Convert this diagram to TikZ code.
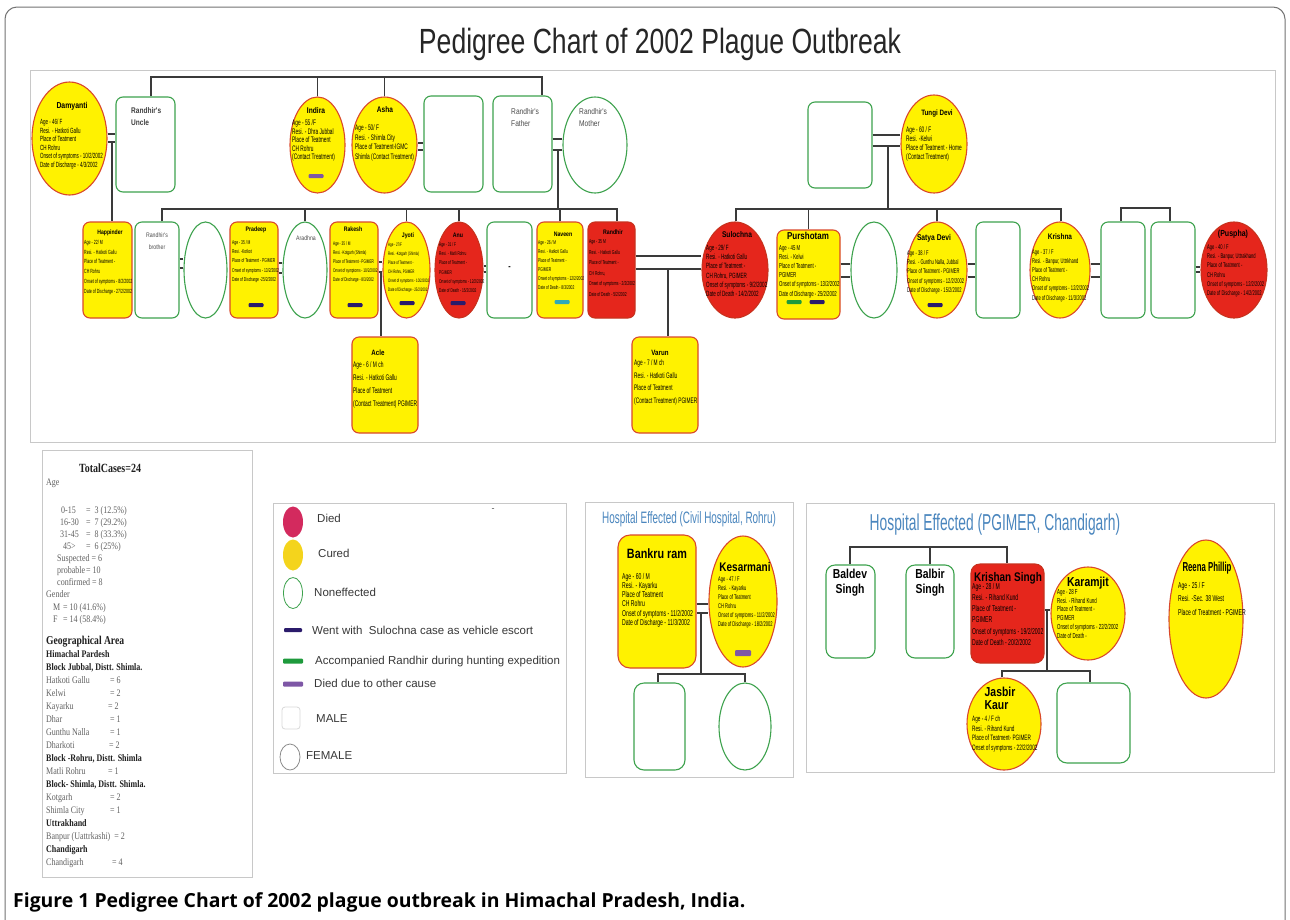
\documentclass[tikz,border=0pt]{standalone}
\usepackage{fontspec}
\setmainfont{Liberation Sans}
\newfontfamily\nar[FakeStretch=0.6]{Liberation Sans}
\newfontfamily\namef[FakeStretch=0.8]{Liberation Sans}
\newfontfamily\tnar[FakeStretch=0.76]{Liberation Sans}
\newfontfamily\statf[FakeStretch=0.8]{Liberation Serif}
\newfontfamily\capf{Open Sans}
\usetikzlibrary{shapes.geometric,calc}
\definecolor{yel}{HTML}{FFF200}
\definecolor{yelb}{HTML}{D9482B}
\definecolor{redf}{HTML}{E5261C}
\definecolor{redb}{HTML}{C8321E}
\definecolor{grn}{HTML}{3DA24D}
\definecolor{ln}{HTML}{3A3A3A}
\definecolor{navy}{HTML}{2B1B6B}
\definecolor{barg}{HTML}{1E9A3C}
\definecolor{purp}{HTML}{7E57A6}
\definecolor{tealc}{HTML}{2FA9B8}
\definecolor{ttl}{HTML}{4A86BE}
\definecolor{pan}{HTML}{C8C8C8}
\definecolor{lgdied}{HTML}{D32A5E}
\definecolor{lgcured}{HTML}{F4D41C}
\newcommand\fs[2]{\fontsize{#1}{#2}\selectfont}
\newcommand\dtl[3]{{\nar\fs{#1}{#2}\begin{tabular}[t]{@{}l@{}}#3\end{tabular}}}
\newcommand\dbl[4]{\draw[conn] (#1.east |- 0,#3) -- (#2.west |- 0,#3); \draw[conn] (#1.east |- 0,#4) -- (#2.west |- 0,#4);}
\begin{document}
\begin{tikzpicture}[x=1pt,y=-1pt,
  pbox/.style={rectangle, rounded corners=7pt, line width=1.1pt, inner sep=0pt},
  pell/.style={ellipse, line width=1.1pt, inner sep=0pt},
  cured/.style={fill=yel, draw=yelb},
  died/.style={fill=redf, draw=redb},
  unaff/.style={fill=white, draw=grn},
  wh/.style 2 args={minimum width=#1pt, minimum height=#2pt},
  conn/.style={draw=ln, line width=1.2pt},
  nm/.style={anchor=base, inner sep=0pt},
  dt/.style={anchor=base west, inner sep=0pt},
  tag/.style={rectangle, rounded corners=1pt, inner sep=0pt, minimum width=15pt, minimum height=4pt},
  panel/.style={draw=pan, line width=0.9pt},
  lg/.style={anchor=base west, inner sep=0pt, font={\fs{11.5}{13}}, text=black!78},
  st/.style={anchor=base west, inner sep=0pt, font={\statf\fs{10}{12}}, text=black!62},
  stb/.style={anchor=base west, inner sep=0pt, font={\statf\bfseries\fs{10}{12}}, text=black!88}
]
\useasboundingbox (0,0) rectangle (1290,919);
\fill[white] (0,0) rectangle (1290,919);
% outer frame
\draw[draw=black!55, line width=1pt, rounded corners=12pt] (5,7) rectangle (1285,935);
% title
\node[anchor=base, inner sep=0pt, font={\tnar\fs{35}{40}}, text=black!85] (title) at (660,53) {Pedigree Chart of 2002 Plague Outbreak};
% panels
\draw[panel] (30,70) rectangle (1275,442);
\draw[panel] (42,450) rectangle (252,877);
\draw[panel] (273,503) rectangle (566,773);
\draw[panel] (585,502) rectangle (793,777);
\draw[panel] (806,503) rectangle (1274,772);

% ---------- generation 1 ----------
\node[pell,cured,wh={75}{113}] (dam) at (69.5,138.5) {};
\node[pbox,unaff,wh={59}{95}] (unc) at (145.5,144.5) {};
\node[pell,cured,wh={55}{96}] (ind) at (317.5,145) {};
\node[pell,cured,wh={65}{96}] (asha) at (384.5,145) {};
\node[pbox,unaff,wh={59}{96}] (ashh) at (453.5,144) {};
\node[pbox,unaff,wh={59}{96}] (fath) at (522.5,144) {};
\node[pell,unaff,wh={64}{96}] (moth) at (595,145) {};
\node[pbox,unaff,wh={64}{86}] (tungh) at (840,145) {};
\node[pell,cured,wh={66}{98}] (tungi) at (934,144) {};

% ---------- generation 2 ----------
\node[pbox,cured,wh={49}{96}] (hap) at (107.5,270) {};
\node[pbox,unaff,wh={44}{96}] (bro) at (157,270) {};
\node[pell,unaff,wh={43}{96}] (brow) at (205.5,270) {};
\node[pbox,cured,wh={48}{96}] (prad) at (254,270) {};
\node[pell,unaff,wh={44}{96}] (arad) at (305,270) {};
\node[pbox,cured,wh={48}{96}] (rak) at (354,270) {};
\node[pell,cured,wh={47}{96}] (jyo) at (406.5,270) {};
\node[pell,died,wh={48}{96}] (anu) at (459,270) {};
\node[pbox,unaff,wh={45}{96}] (anuh) at (509.5,270) {};
\node[pbox,cured,wh={46}{96}] (nav) at (560,270) {};
\node[pbox,died,wh={47}{96}] (ran) at (611.5,270) {};
\node[pell,died,wh={66}{96}] (sul) at (735,270) {};
\node[pbox,cured,wh={63}{89}] (pur) at (808.5,274.5) {};
\node[pell,unaff,wh={46}{96}] (purw) at (874,270) {};
\node[pell,cured,wh={60}{96}] (sat) at (937,270) {};
\node[pbox,unaff,wh={44}{96}] (sath) at (998,270) {};
\node[pell,cured,wh={60}{96}] (kri) at (1060,270) {};
\node[pbox,unaff,wh={44}{96}] (krih) at (1123,270) {};
\node[pbox,unaff,wh={44}{96}] (oth) at (1173,270) {};
\node[pell,died,wh={66}{96}] (pus) at (1234,270) {};

% ---------- generation 3 ----------
\node[pbox,cured,wh={66}{96}] (acle) at (385,385) {};
\node[pbox,cured,wh={66}{96}] (var) at (665,385) {};

% ---------- connectors (main chart) ----------
\coordinate (tbl) at (151,77); \coordinate (tbr) at (542,77);
\draw[conn] (tbl |- unc.north) -- (tbl) -- (tbr) -- (tbr |- fath.north);
\draw[conn] (ind.north) -- (ind.north |- tbl);
\draw[conn] (asha.north) -- (asha.north |- tbl);
\dbl{dam}{unc}{134}{142}
\coordinate (du) at (112,142);
\draw[conn] (du) -- (du |- hap.north);
\dbl{asha}{ashh}{143}{150}
\dbl{fath}{moth}{139}{150}
\coordinate (fm) at (558,150);
\coordinate (g2l) at (162,209); \coordinate (g2r) at (617,209);
\draw[conn] (fm) -- (fm |- g2l);
\draw[conn] (g2l |- bro.north) -- (g2l) -- (g2r) -- (g2r |- ran.north);
\draw[conn] (arad.north) -- (arad.north |- g2l);
\draw[conn] (jyo.north) -- (jyo.north |- g2l);
\draw[conn] (anu.north) -- (anu.north |- g2l);
\draw[conn] (nav.north) -- (nav.north |- g2l);
\dbl{bro}{brow}{259}{268}
\dbl{prad}{arad}{263}{273}
\dbl{rak}{jyo}{262}{272}
\coordinate (rj) at (381,272);
\draw[conn] (rj) -- (rj |- acle.north);
\dbl{anu}{anuh}{266}{272}
\dbl{ran}{sul}{256}{269}
\coordinate (rs) at (668,269);
\draw[conn] (rs) -- (rs |- var.north);
\dbl{tungh}{tungi}{135}{146}
\coordinate (tu) at (888,146);
\coordinate (g3l) at (736,209); \coordinate (g3r) at (1061,209);
\draw[conn] (tu) -- (tu |- g3l);
\draw[conn] (g3l |- sul.north) -- (g3l) -- (g3r) -- (g3r |- kri.north);
\draw[conn] (pur.north) -- (pur.north |- g3l);
\draw[conn] (sat.north) -- (sat.north |- g3l);
\dbl{pur}{purw}{264}{277}
\dbl{sat}{sath}{264}{277}
\dbl{kri}{krih}{264}{277}
\dbl{oth}{pus}{267}{272}
\coordinate (kb1) at (1121,208); \coordinate (kb2) at (1170,208);
\draw[conn] (kb1 |- krih.north) -- (kb1) -- (kb2) -- (kb2 |- oth.north);

% ---------- texts, generation 1 ----------
\node[nm,font={\namef\bfseries\fs{8.6}{10}}] (dam-n) at (72,108) {Damyanti};
\node[dt] (dam-d) at (40,124.5) {\dtl{7.5}{8.5}{Age - 46/ F\\Resi. - Hatkoti Gallu\\Place of Teatment\\CH Rohru\\Onset of symptoms - 10/2/2002\\Date of Discharge - 4/3/2002}};
\node[dt,font={\namef\bfseries\fs{8.2}{12}},text=black!75,align=left] (unc-n) at (131,125) {Randhir's\\Uncle};
\node[nm,font={\namef\bfseries\fs{8.3}{10}}] (ind-n) at (316,113) {Indira};
\node[dt] (ind-d) at (292,125.5) {\dtl{8}{8.5}{Age - 55 /F\\Resi. - Dhra Jubbal\\Place of Teatment\\CH Rohru\\(Contact Treatment)}};
\node[tag,fill=purp] (ind-b) at (316,176) {};
\node[nm,font={\namef\bfseries\fs{8.2}{10}}] (asha-n) at (385,112) {Asha};
\node[dt] (asha-d) at (355,130.5) {\dtl{8}{9.7}{Age - 50/ F\\Resi. - Shimla City\\Place of Teatment-IGMC\\Shimla (Contact Treatment)}};
\node[dt,font={\namef\fs{8.3}{12}},text=black!70,align=left] (fath-n) at (511,126) {Randhir's\\Father};
\node[dt,font={\namef\fs{8.3}{12}},text=black!70,align=left] (moth-n) at (579,126) {Randhir's\\Mother};
\node[nm,font={\namef\bfseries\fs{7.8}{10}}] (tungi-n) at (937,115) {Tungi Devi};
\node[dt] (tungi-d) at (906,132.5) {\dtl{8}{9.1}{Age - 60 / F\\Resi. -Kelwi\\Place of Teatment - Home\\(Contact Treatment)}};

% ---------- texts, generation 2 ----------
\node[nm,font={\namef\bfseries\fs{6.4}{8}}] (hap-n) at (110,234) {Happinder};
\node[dt] (hap-d) at (84,244.5) {\dtl{6}{9.7}{Age - 22/ M\\Resi. - Hatkoti Gallu\\Place of Teatment -\\CH Rohru\\Onset of symptoms - 8/2/2002\\Date of Discharge - 27/2/2002}};
\node[nm,font={\namef\fs{6.5}{12}},text=black!70,align=center] (bro-n) at (157,249) {Randhir's\\brother};
\node[nm,font={\namef\bfseries\fs{6.5}{8}}] (prad-n) at (256,231) {Pradeep};
\node[dt] (prad-d) at (232,244.5) {\dtl{5.6}{9.2}{Age - 35 / M\\Resi. -Kotkot\\Place of Teatment - PGIMER\\Onset of symptoms - 13/2/2002\\Date of Discharge -25/2/2002}};
\node[tag,fill=navy] (prad-b) at (256,305) {};
\node[nm,font={\namef\fs{6.5}{8}},text=black!70] (arad-n) at (306,240) {Aradhna};
\node[nm,font={\namef\bfseries\fs{6.5}{8}}] (rak-n) at (353,231) {Rakesh};
\node[dt] (rak-d) at (333,245.5) {\dtl{5.3}{9}{Age - 35 / M\\Resi. -Kotgarh (Shimla)\\Place of Teatment - PGIMER\\Onset of symptoms - 10/2/2002\\Date of Discharge - 8/3/2002}};
\node[tag,fill=navy] (rak-b) at (355,305) {};
\node[nm,font={\namef\bfseries\fs{6.5}{8}}] (jyo-n) at (408,237) {Jyoti};
\node[dt] (jyo-d) at (388,246.5) {\dtl{4.9}{9}{Age - 27/F\\Resi. -Kotgarh (Shimla)\\Place of Teatment -\\CH Rohru, PGIMER\\Onset of symptoms - 10/2/2002\\Date of Discharge - 25/2/2002}};
\node[tag,fill=navy] (jyo-b) at (407,303) {};
\node[nm,font={\namef\bfseries\fs{6.5}{8}}] (anu-n) at (458,237) {Anu};
\node[dt] (anu-d) at (439,246.5) {\dtl{5.4}{9.2}{Age - 31 / F\\Resi. - Matli Rohru\\Place of Teatment -\\PGIMER\\Onset of symptoms - 12/2/2002\\Date of Death - 15/2/2002}};
\node[tag,fill=navy] (anu-b) at (458,303) {};
\node[nm,font={\namef\bfseries\fs{9}{10}}] (anuh-n) at (509.5,269) {-};
\node[nm,font={\namef\bfseries\fs{6.5}{8}}] (nav-n) at (563,236) {Naveen};
\node[dt] (nav-d) at (538,244.5) {\dtl{5.5}{9}{Age - 26 / M\\Resi. - Hatkoti Gallu\\Place of Teatment -\\PGIMER\\Onset of symptoms - 12/2/2002\\Date of Death - 8/3/2002}};
\node[tag,fill=tealc] (nav-b) at (562,302) {};
\node[nm,font={\namef\bfseries\fs{6.5}{8}}] (ran-n) at (613,234) {Randhir};
\node[dt] (ran-d) at (589,243.5) {\dtl{5.7}{10.5}{Age - 35 M\\Resi. - Hatkoti Gallu\\Place of Teatment -\\CH Rohru,\\Onset of symptoms - 2/2/2002\\Date of Death - 5/2/2002}};
\node[nm,font={\namef\bfseries\fs{8.3}{10}}] (sul-n) at (737,237.5) {Sulochna};
\node[dt] (sul-d) at (706,250.5) {\dtl{7.6}{9.2}{Age - 29/ F\\Resi. - Hatkoti Gallu\\Place of Teatment -\\CH Rohru, PGIMER\\Onset of symptoms - 9/2/2002\\Date of Death - 14/2/2002}};
\node[nm,font={\namef\bfseries\fs{10}{12}}] (pur-n) at (808,239) {Purshotam};
\node[dt] (pur-d) at (779,250.5) {\dtl{7.2}{9.1}{Age - 45 M\\Resi. - Kelwi\\Place of Teatment -\\PGIMER\\Onset of symptoms - 13/2/2002\\Date of Discharge - 25/2/2002}};
\node[tag,fill=barg] (pur-b1) at (794,302) {};
\node[tag,fill=navy] (pur-b2) at (817,302) {};
\node[nm,font={\namef\bfseries\fs{8.4}{10}}] (sat-n) at (934,240) {Satya Devi};
\node[dt] (sat-d) at (907,255.5) {\dtl{6.8}{9.2}{Age - 38 / F\\Resi. - Gunthu Nalla, Jubbal\\Place of Teatment - PGIMER\\Onset of symptoms - 12/2/2002\\Date of Discharge - 15/2/2002}};
\node[tag,fill=navy] (sat-b) at (935,305) {};
\node[nm,font={\namef\bfseries\fs{8.1}{10}}] (kri-n) at (1060,239) {Krishna};
\node[dt] (kri-d) at (1032,254.5) {\dtl{6.8}{9.1}{Age - 37 / F\\Resi. - Banpur, Uttrkhand\\Place of Teatment -\\CH Rohru\\Onset of symptoms - 12/2/2002\\Date of Discharge - 11/3/2002}};
\node[nm,font={\namef\bfseries\fs{8.8}{10}}] (pus-n) at (1233,236.5) {(Puspha)};
\node[dt] (pus-d) at (1207,249.5) {\dtl{6.8}{9.2}{Age - 40 / F\\Resi. - Banpur, Uttrakhand\\Place of Teatment -\\CH Rohru\\Onset of symptoms - 12/2/2002\\Date of Discharge - 14/2/2002}};

% ---------- texts, generation 3 ----------
\node[nm,font={\namef\bfseries\fs{7.7}{10}}] (acle-n) at (378,355) {Acle};
\node[dt] (acle-d) at (353,367.5) {\dtl{8.1}{13}{Age - 6 / M ch\\Resi. - Hatkoti Gallu\\Place of Teatment\\(Contact Treatment) PGIMER}};
\node[nm,font={\namef\bfseries\fs{7.7}{10}}] (var-n) at (660,355) {Varun};
\node[dt] (var-d) at (634,365.5) {\dtl{8}{12.7}{Age - 7 / M ch\\Resi. - Hatkoti Gallu\\Place of Teatment\\(Contact Treatment) PGIMER}};

% ---------- statistics ----------
\node[anchor=base, inner sep=0pt, font={\statf\bfseries\fs{12.5}{14}}, text=black!88] (st0) at (110,472) {TotalCases=24};
\node[st] (st1) at (46,485.5) {Age};
\node[st] (st2) at (61,513) {\makebox[25pt][l]{0-15}= \ 3 (12.5\%)};
\node[st] (st3) at (60,525) {\makebox[26pt][l]{16-30}= \ 7 (29.2\%)};
\node[st] (st4) at (60,537) {\makebox[26pt][l]{31-45}= \ 8 (33.3\%)};
\node[st] (st5) at (63,549) {\makebox[23pt][l]{45>}= \ 6 (25\%)};
\node[st] (st6) at (57,561) {Suspected = 6};
\node[st] (st7) at (57,573) {\makebox[29pt][l]{probable}= 10};
\node[st] (st8) at (57,585) {confirmed = 8};
\node[st] (st9) at (46,597) {Gender};
\node[st] (st10) at (53,610) {\makebox[10pt][l]{M}= 10 (41.6\%)};
\node[st] (st11) at (53,622) {\makebox[10pt][l]{F}= 14 (58.4\%)};
\node[anchor=base west, inner sep=0pt, font={\statf\bfseries\fs{12}{14}}, text=black!88] (st12) at (46,644) {Geographical Area};
\node[stb] (st13) at (46,657) {Himachal Pardesh};
\node[stb] (st14) at (46,670) {Block Jubbal, Distt. Shimla.};
\node[st] (st15) at (46,683) {\makebox[64pt][l]{Hatkoti Gallu}= 6};
\node[st] (st16) at (46,696) {\makebox[64pt][l]{Kelwi}= 2};
\node[st] (st17) at (46,709) {\makebox[62pt][l]{Kayarku}= 2};
\node[st] (st18) at (46,722) {\makebox[64pt][l]{Dhar}= 1};
\node[st] (st19) at (46,735) {\makebox[64pt][l]{Gunthu Nalla}= 1};
\node[st] (st20) at (46,748) {\makebox[63pt][l]{Dharkoti}= 2};
\node[stb] (st21) at (46,761) {Block -Rohru, Distt. Shimla};
\node[st] (st22) at (46,774) {\makebox[62pt][l]{Matli Rohru}= 1};
\node[stb] (st23) at (46,787) {Block- Shimla, Distt. Shimla.};
\node[st] (st24) at (46,800) {\makebox[64pt][l]{Kotgarh}= 2};
\node[st] (st25) at (46,813) {\makebox[64pt][l]{Shimla City}= 1};
\node[stb] (st26) at (46,826) {Uttrakhand};
\node[st] (st27) at (46,839) {Banpur (Uattrkashi) \ = 2};
\node[stb] (st28) at (46,852) {Chandigarh};
\node[st] (st29) at (46,865) {\makebox[66pt][l]{Chandigarh}= 4};

% ---------- legend ----------
\node[ellipse, fill=lgdied, inner sep=0pt, wh={20}{31}] (lg1s) at (293,522) {};
\node[ellipse, fill=lgcured, inner sep=0pt, wh={20}{31}] (lg2s) at (293,555) {};
\node[ellipse, draw=grn, line width=0.8pt, fill=white, inner sep=0pt, wh={19}{31}] (lg3s) at (293,593) {};
\node[tag, fill=navy, minimum width=18pt] (lg4s) at (293,630) {};
\node[tag, fill=barg, minimum width=20pt, minimum height=5pt] (lg5s) at (293,661) {};
\node[tag, fill=purp, minimum width=20pt, minimum height=5pt] (lg6s) at (293,684) {};
\node[rectangle, rounded corners=3pt, draw=black!15, line width=0.8pt, inner sep=0pt, wh={18}{22}] (lg7s) at (291,718) {};
\node[ellipse, draw=black!45, line width=0.8pt, inner sep=0pt, wh={20}{26}] (lg8s) at (290,757) {};
\node[lg] (lg1) at (317,522) {Died};
\node[lg] (lg2) at (318,557) {Cured};
\node[lg] (lg3) at (314,596) {Noneffected};
\node[lg] (lg4) at (312,634) {Went with \ Sulochna case as vehicle escort};
\node[lg] (lg5) at (315,664) {Accompanied Randhir during hunting expedition};
\node[lg] (lg6) at (314,687) {Died due to other cause};
\node[lg] (lg7) at (316,722) {MALE};
\node[lg] (lg8) at (306,759) {FEMALE};
\node[anchor=base, inner sep=0pt, font={\fs{9}{10}}, text=black!70] (lgdash) at (493,511) {-};

% ---------- hospital Rohru ----------
\node[anchor=base, inner sep=0pt, font={\nar\fs{16.5}{18}}, text=ttl] (rt) at (689,523) {Hospital Effected (Civil Hospital, Rohru)};
\node[pbox,cured,wh={78}{133},rounded corners=12pt] (bank) at (657,601.5) {};
\node[pell,cured,wh={68}{131}] (kes) at (743,601.5) {};
\node[pbox,unaff,wh={51}{87},rounded corners=10pt] (rc1) at (659.5,726.5) {};
\node[pell,unaff,wh={52}{87}] (rc2) at (745,726.5) {};
\dbl{bank}{kes}{604}{613}
\coordinate (bk) at (701,613);
\coordinate (rbl) at (658,674); \coordinate (rbr) at (745,674);
\draw[conn] (bk) -- (bk |- rbl);
\draw[conn] (rbl |- rc1.north) -- (rbl) -- (rbr) -- (rbr |- rc2.north);
\node[nm,font={\namef\bfseries\fs{13.5}{15}}] (bank-n) at (657,558) {Bankru ram};
\node[dt] (bank-d) at (622,579) {\dtl{8.5}{9.3}{Age - 60 / M\\Resi. - Kayarku\\Place of Teatment\\CH Rohru\\Onset of symptoms - 11/2/2002\\Date of Discharge - 11/3/2002}};
\node[nm,font={\namef\bfseries\fs{12.5}{15}}] (kes-n) at (745,571) {Kesarmani};
\node[dt] (kes-d) at (718,581.5) {\dtl{6.8}{8.9}{Age - 47 / F\\Resi. - Kayarku\\Place of Teatment\\CH Rohru\\Onset of symptoms - 11/2/2002\\Date of Discharge - 18/2/2002}};
\node[tag,fill=purp,minimum width=16pt,minimum height=6pt] (kes-b) at (743,653) {};

% ---------- hospital PGIMER ----------
\node[anchor=base, inner sep=0pt, font={\nar\fs{23}{26}}, text=ttl] (pt) at (995,530) {Hospital Effected (PGIMER, Chandigarh)};
\node[pbox,unaff,wh={49}{93},rounded corners=9pt] (bal) at (850.5,611.5) {};
\node[pbox,unaff,wh={48}{93},rounded corners=9pt] (bab) at (930,611.5) {};
\node[pbox,died,wh={73}{99},rounded corners=9pt] (ks) at (1007.5,613.5) {};
\node[pell,cured,wh={74}{93}] (kar) at (1088,613.5) {};
\node[pell,cured,wh={74}{92}] (jas) at (1004,724) {};
\node[pbox,unaff,wh={73}{80},rounded corners=10pt] (eb) at (1093.5,723) {};
\node[pell,cured,wh={74}{158}] (reena) at (1206,619) {};
\coordinate (pbl) at (850,547); \coordinate (pbr) at (1007,547);
\draw[conn] (pbl |- bal.north) -- (pbl) -- (pbr) -- (pbr |- ks.north);
\draw[conn] (bab.north) -- (bab.north |- pbl);
\draw[conn] (ks.east |- 0,610) -- (kar.west |- 0,610);
\coordinate (kk) at (1047,610);
\coordinate (pcl) at (1002,671); \coordinate (pcr) at (1090,671);
\draw[conn] (kk) -- (kk |- pcl);
\draw[conn] (pcl |- jas.north) -- (pcl) -- (pcr) -- (pcr |- eb.north);
\node[nm,font={\namef\bfseries\fs{13}{15}},align=center] (bal-n) at (850,593) {Baldev\\Singh};
\node[nm,font={\namef\bfseries\fs{13}{15}},align=center] (bab-n) at (930,593) {Balbir\\Singh};
\node[nm,font={\namef\bfseries\fs{12.5}{15}}] (ks-n) at (1008,581) {Krishan Singh};
\node[dt] (ks-d) at (972,589) {\dtl{8.5}{11.3}{Age - 28 / M\\Resi. - Rihand Kund\\Place of Teatment -\\PGIMER\\Onset of symptoms - 19/2/2002\\Date of Death - 20/2/2002}};
\node[nm,font={\namef\bfseries\fs{13}{15}}] (kar-n) at (1088,586) {Karamjit};
\node[dt] (kar-d) at (1057,594.5) {\dtl{7.3}{8.7}{Age - 28 F\\Resi. - Rihand Kund\\Place of Teatment -\\PGIMER\\Onset of symptoms - 22/2/2002\\Date of Death -}};
\node[nm,font={\namef\bfseries\fs{13}{13}},align=left] (jas-n) at (1000,709) {Jasbir\\Kaur};
\node[dt] (jas-d) at (972,721.5) {\dtl{7.8}{9.7}{Age - 4 / F ch\\Resi. - Rihand Kund\\Place of Teatment- PGIMER\\Onset of symptoms - 22/2/2002}};
\node[nm,font={\nar\bfseries\fs{13}{15}}] (reena-n) at (1207,571) {Reena Phillip};
\node[dt] (reena-d) at (1178,588) {\dtl{8.5}{13.8}{Age - 25 / F\\Resi. -Sec. 38 West\\Place of Treatment - PGIMER}};

% ---------- caption ----------
\node[anchor=base west, inner sep=0pt, font={\capf\bfseries\fs{19.4}{21}}] (cap) at (13,907) {Figure 1 Pedigree Chart of 2002 plague outbreak in Himachal Pradesh, India.};
\end{tikzpicture}
\end{document}
